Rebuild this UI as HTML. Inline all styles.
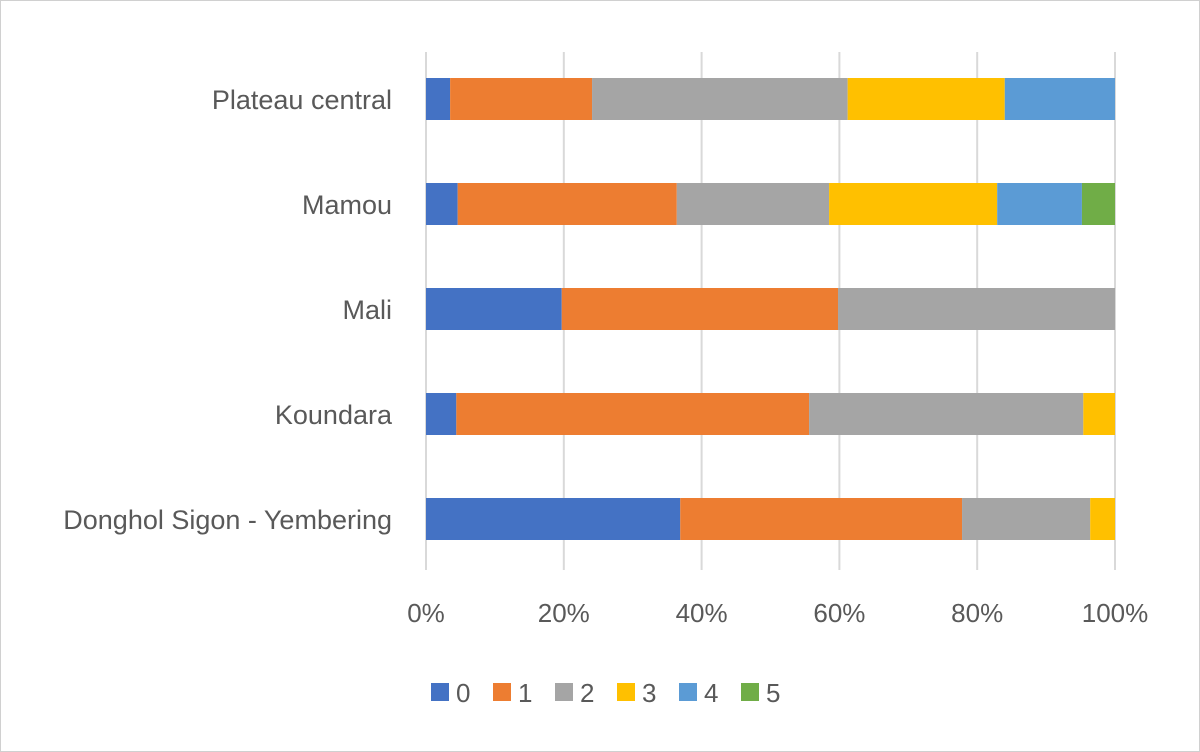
<!DOCTYPE html>
<html><head><meta charset="utf-8"><style>
html,body{margin:0;padding:0;background:#fff;}
svg{display:block;font-family:"Liberation Sans",sans-serif;}
</style></head><body>
<svg id="chart" width="1200" height="752">
<rect x="0.5" y="0.5" width="1199" height="751" fill="#fff" stroke="#d0d0d0"/>
<g id="grid"></g><g id="bars"></g><g id="ylabels"></g><g id="xlabels"></g><g id="legend"></g>
</svg>
<script>
const categories = ["Plateau central","Mamou","Mali","Koundara","Donghol Sigon - Yembering"];
const series0 = [3.5, 4.6, 19.7, 4.4, 36.9];
const series1 = [20.6, 31.8, 40.1, 51.2, 40.9];
const series2 = [37.1, 22.1, 40.2, 39.8, 18.6];
const series3 = [22.8, 24.4, 0, 4.6, 3.6];
const series4 = [16.0, 12.3, 0, 0, 0];
const series5 = [0, 4.8, 0, 0, 0];
const seriesNames = ["0","1","2","3","4","5"];
const tickLabels = ["0%","20%","40%","60%","80%","100%"];
const tickValues = [0,20,40,60,80,100];
const colors = ["#4472c4","#ed7d31","#a5a5a5","#ffc000","#5b9bd5","#70ad47"];
const allSeries = [series0,series1,series2,series3,series4,series5];
const NS="http://www.w3.org/2000/svg";
const x0=426, x1=1115;
const xs = v => x0 + (x1-x0)*v/100;
const ys = i => 99 + i*105;
const bh = 42;
function mk(t, attrs, parent){const e=document.createElementNS(NS,t);for(const k in attrs)e.setAttribute(k,attrs[k]);parent.appendChild(e);return e;}
const grid=document.getElementById('grid'), bars=document.getElementById('bars'), yl=document.getElementById('ylabels'), xl=document.getElementById('xlabels'), lg=document.getElementById('legend');
tickValues.forEach((v,i)=>{
  const l=mk('line',{x1:xs(v),x2:xs(v),y1:52,y2:570,stroke:'#d9d9d9','stroke-width':2},grid);
  
  
  const t=mk('text',{x:xs(v),y:622,'text-anchor':'middle','font-size':26,fill:'#595959'},xl);
  t.textContent=tickLabels[i];
  
  
});
categories.forEach((c,i)=>{
  let acc=0;
  allSeries.forEach((s,j)=>{
    const v=s[i];
    const norm = allSeries.reduce((a,ss)=>a+ss[i],0);
    const w = v/norm*100;
    if(w>0){
      const r=mk('rect',{x:xs(acc),y:ys(i)-bh/2,width:xs(acc+w)-xs(acc),height:bh,fill:colors[j]},bars);
      
      
    }
    acc+=w;
  });
  const t=mk('text',{x:392,y:ys(i)+10,'text-anchor':'end','font-size':27,fill:'#595959'},yl);
  t.textContent=c;
  
  
});
seriesNames.forEach((n,j)=>{
  const x=431+j*62;
  const r=mk('rect',{x:x,y:683,width:18,height:18,fill:colors[j]},lg);
  
  
  const t=mk('text',{x:x+25,y:702,'font-size':26,fill:'#595959'},lg);
  t.textContent=n;
  
  
});
</script>
</body></html>
